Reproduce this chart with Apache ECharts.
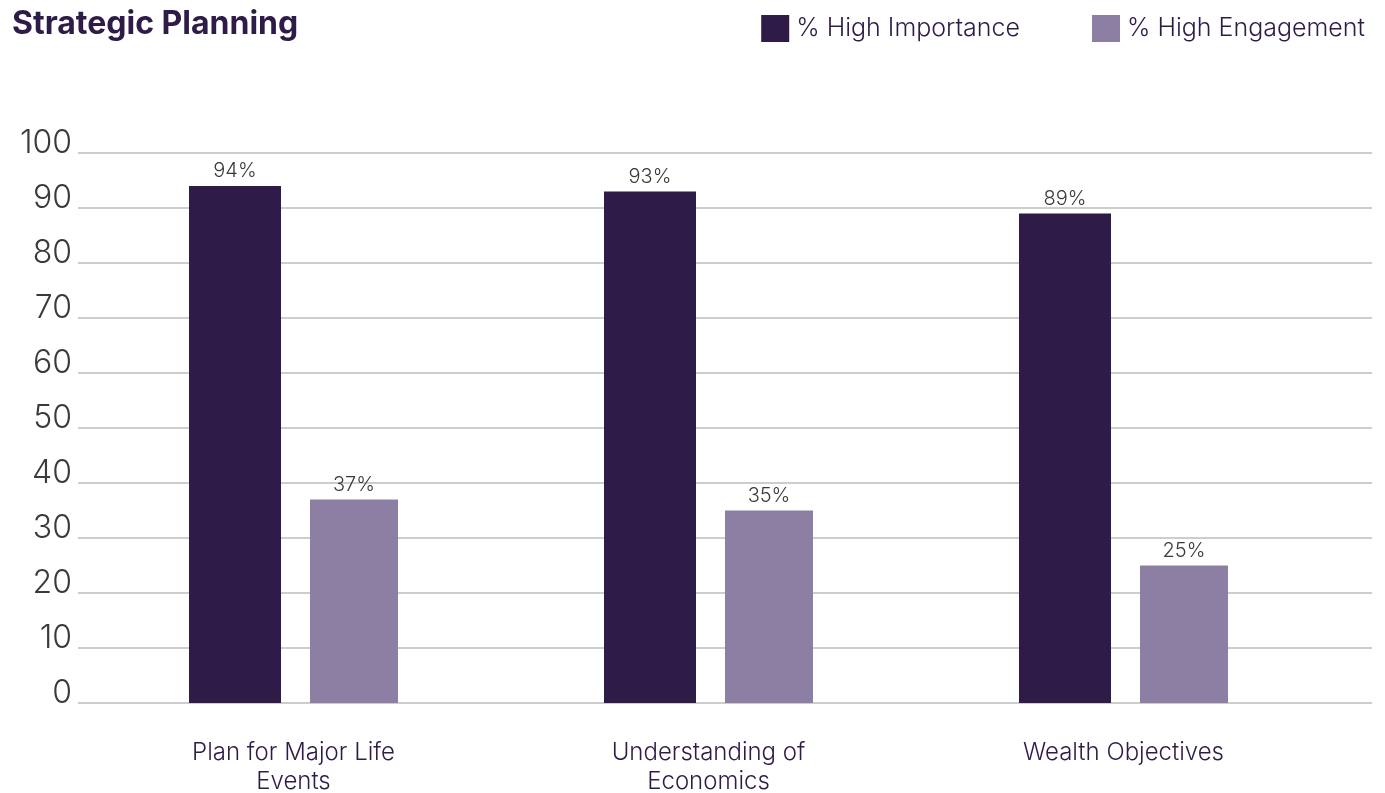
<!DOCTYPE html>
<html>
<head>
<meta charset="utf-8">
<title>Strategic Planning</title>
<script src="https://cdn.jsdelivr.net/npm/echarts@6/dist/echarts.min.js"></script>
<style>
  html, body { margin: 0; padding: 0; background: #ffffff; }
  #chart { width: 1385px; height: 793px; }
</style>
</head>
<body>
<div id="chart"></div>
<script>
// Chart data
const categories = ['Plan for Major Life\nEvents', 'Understanding of\nEconomics', 'Wealth Objectives'];
const highImportance = [94, 93, 89];
const highEngagement = [37, 35, 25];
const seriesNames = ['% High Importance', '% High Engagement'];
const yTicks = { min: 0, max: 100, interval: 10 };

const DARK = '#2e1b47';
const LIGHT = '#8d7fa3';
const FONT = 'Inter, "Noto Sans", sans-serif';

const chart = echarts.init(document.getElementById('chart'), null, { renderer: 'canvas' });

const option = {
  backgroundColor: '#ffffff',
  animation: false,
  title: {
    text: 'Strategic Planning',
    left: 7,
    top: 3,
    textStyle: { fontFamily: FONT, fontSize: 32, fontWeight: 'bold', color: DARK }
  },
  legend: {
    data: seriesNames,
    right: 15,
    top: 10,
    itemWidth: 28,
    itemHeight: 27,
    itemGap: 72,
    icon: 'rect',
    textStyle: { fontFamily: FONT, fontSize: 25, fontWeight: 300, color: DARK, padding: [0, 0, 0, 2] }
  },
  grid: [
    // full-width grid carrying the value scale and its gridlines
    { left: 78, right: 13, top: 153, bottom: 90, outerBoundsMode: 'none' },
    // grid holding the bars and category labels
    { left: 86, right: 54, top: 153, bottom: 90, outerBoundsMode: 'none' }
  ],
  xAxis: [
    {
      type: 'category', gridIndex: 0, data: categories,
      show: false
    },
    {
      type: 'category', gridIndex: 1, data: categories,
      axisLine: { show: false },
      axisTick: { show: false },
      axisLabel: {
        fontFamily: FONT, fontSize: 24, fontWeight: 300, color: DARK,
        lineHeight: 29, margin: 35, interval: 0
      }
    }
  ],
  yAxis: [
    {
      type: 'value', gridIndex: 0,
      min: yTicks.min, max: yTicks.max, interval: yTicks.interval,
      axisLine: { show: false },
      axisTick: { show: false },
      axisLabel: {
        fontFamily: FONT, fontSize: 32, fontWeight: 300, color: '#3a3a3a',
        margin: 6, verticalAlign: 'bottom', lineHeight: 20
      },
      splitLine: { show: true, lineStyle: { color: '#bdbdbd', width: 1.5 } }
    },
    {
      type: 'value', gridIndex: 1,
      min: yTicks.min, max: yTicks.max, interval: yTicks.interval,
      show: false,
      splitLine: { show: false }
    }
  ],
  series: [
    {
      name: seriesNames[0],
      type: 'bar',
      xAxisIndex: 1, yAxisIndex: 1,
      data: highImportance,
      barWidth: 92,
      barGap: '31.5%',
      itemStyle: { color: DARK },
      label: {
        show: true, position: 'top', distance: 5,
        formatter: '{c}%',
        fontFamily: FONT, fontSize: 20, fontWeight: 300, color: '#3a3a3a'
      }
    },
    {
      name: seriesNames[1],
      type: 'bar',
      xAxisIndex: 1, yAxisIndex: 1,
      data: highEngagement,
      barWidth: 88,
      barGap: '31.5%',
      itemStyle: { color: LIGHT },
      label: {
        show: true, position: 'top', distance: 5,
        formatter: '{c}%',
        fontFamily: FONT, fontSize: 20, fontWeight: 300, color: '#3a3a3a'
      }
    }
  ]
};

chart.setOption(option);
</script>
</body>
</html>
